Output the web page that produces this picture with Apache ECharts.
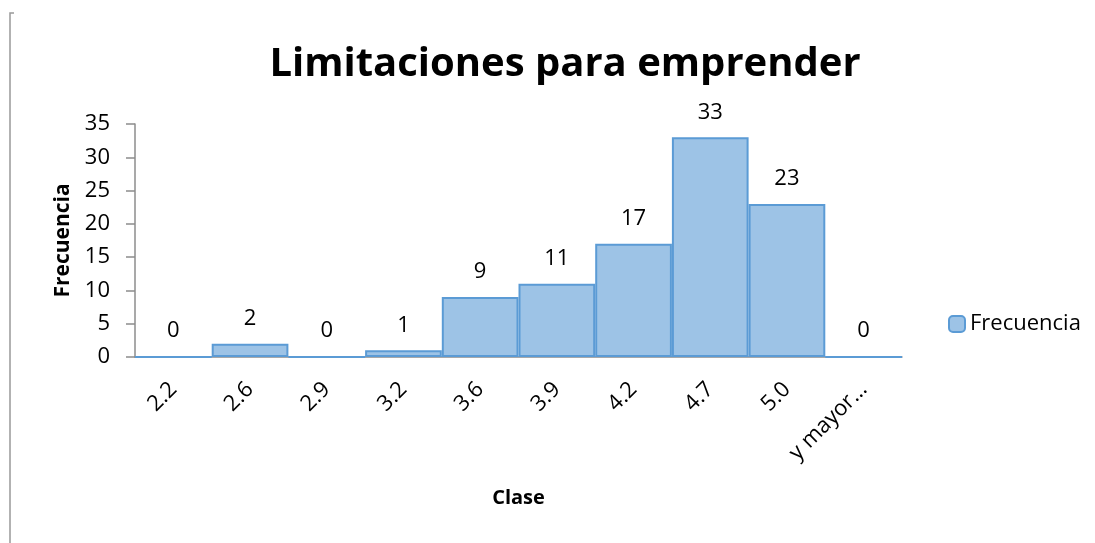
<!DOCTYPE html>
<html>
<head>
<meta charset="utf-8">
<script src="https://cdn.jsdelivr.net/npm/echarts@6/dist/echarts.min.js"></script>
<style>
  html, body { margin: 0; padding: 0; background: #fff; }
  #chart { width: 1095px; height: 543px; }
</style>
</head>
<body>
<div id="chart"></div>
<script>
const categories = ['2.2', '2.6', '2.9', '3.2', '3.6', '3.9', '4.2', '4.7', '5.0', 'y mayor…']
const frecuencia = [0, 2, 0, 1, 9, 11, 17, 33, 23, 0]
const yTicks = { min: 0, max: 35, interval: 5 }

const font = '"Open Sans", Lato, sans-serif'
const axisGray = '#8c8c8c'

const chart = echarts.init(document.getElementById('chart'))
chart.setOption({
  backgroundColor: '#fff',
  animation: false,
  textStyle: { fontFamily: font },
  title: {
    text: 'Limitaciones para emprender',
    left: 560,
    textAlign: 'center',
    top: 40,
    textStyle: { fontFamily: font, fontWeight: 'bold', fontSize: 40, color: '#000' },
  },
  legend: {
    left: 943,
    top: 308,
    itemWidth: 16,
    itemHeight: 16,
    itemGap: 6,
    textStyle: { fontFamily: font, fontSize: 22, color: '#000' },
    data: ['Frecuencia'],
  },
  grid: { left: 135, right: 193, top: 124, bottom: 186 },
  xAxis: {
    type: 'category',
    data: categories,
    name: 'Clase',
    nameLocation: 'middle',
    nameGap: 131,
    nameTextStyle: { fontFamily: font, fontWeight: 'bold', fontSize: 20, color: '#000' },
    axisLine: { lineStyle: { color: axisGray, width: 1.5 } },
    axisTick: { length: 8, lineStyle: { color: axisGray, width: 1.5 } },
    axisLabel: { rotate: 45, margin: 29, fontSize: 22, color: '#000', interval: 0 },
  },
  yAxis: {
    type: 'value',
    min: yTicks.min,
    max: yTicks.max,
    interval: yTicks.interval,
    name: 'Frecuencia',
    nameLocation: 'middle',
    nameGap: 60,
    nameTextStyle: { fontFamily: font, fontWeight: 'bold', fontSize: 21, color: '#000' },
    axisLine: { show: true, lineStyle: { color: axisGray, width: 1.5 } },
    axisTick: { show: true, length: 9, lineStyle: { color: axisGray, width: 1.5 } },
    axisLabel: { margin: 25, fontSize: 22, color: '#000' },
    splitLine: { show: false },
  },
  series: [
    {
      name: 'Frecuencia',
      type: 'bar',
      barCategoryGap: '0%',
      data: frecuencia,
      itemStyle: { color: '#9dc3e6', borderColor: '#5b9bd5', borderWidth: 2 },
      label: {
        show: true,
        position: 'top',
        distance: 14,
        fontSize: 22,
        color: '#000',
      },
    },
  ],
  graphic: [
    {
      type: 'polyline',
      shape: { points: [[14, 13], [10, 13], [10, 543]] },
      style: { stroke: '#999', lineWidth: 1.5, fill: null },
    },
  ],
})
</script>
</body>
</html>
